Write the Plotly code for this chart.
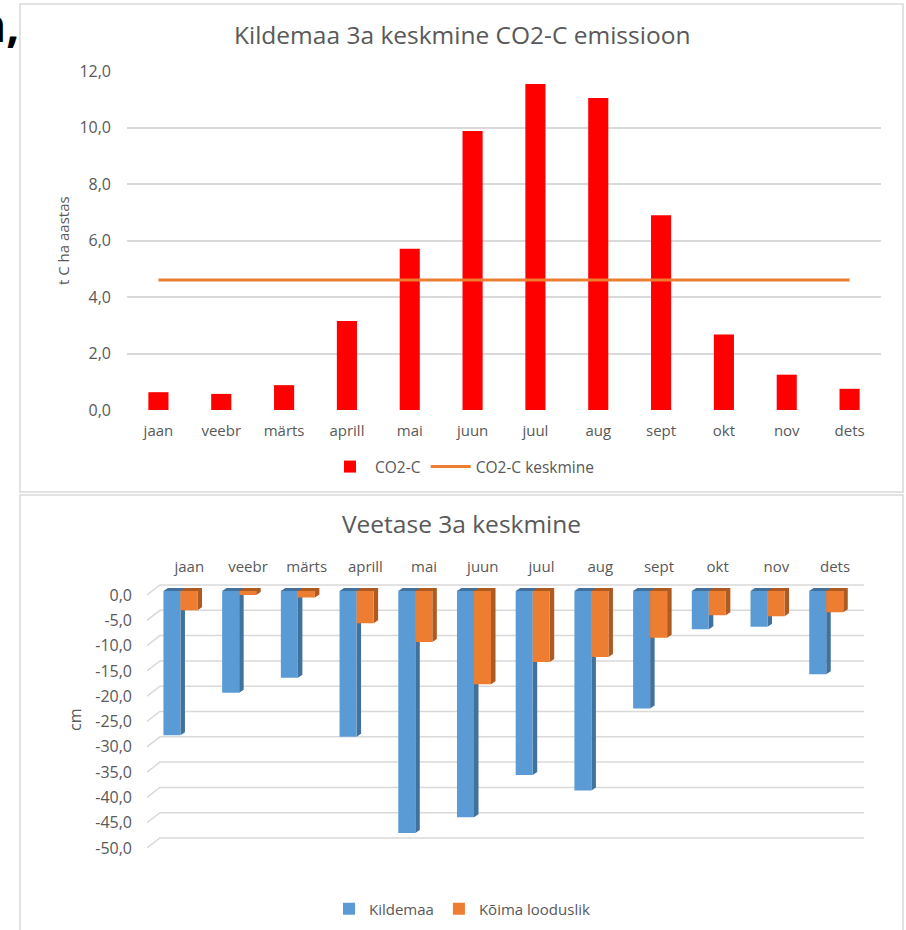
import plotly.graph_objects as go

# ---- data ----
months = ["jaan", "veebr", "märts", "aprill", "mai", "juun",
          "juul", "aug", "sept", "okt", "nov", "dets"]

# monthly CO2-C emission, t C ha aastas
co2_c = [0.63, 0.57, 0.88, 3.15, 5.71, 9.88, 11.54, 11.04, 6.89, 2.67, 1.25, 0.75]
co2_c_keskmine = [4.6, 4.6, 4.6, 4.6, 4.6, 4.6, 4.6, 4.6, 4.6, 4.6, 4.6, 4.6]

# mean water level, cm
kildemaa = [-28.6, -20.2, -17.2, -28.9, -48.0, -44.9, -36.5, -39.6, -23.3, -7.6, -7.1, -16.5]
koima_looduslik = [-3.8, -0.8, -1.3, -6.4, -10.1, -18.5, -14.1, -13.1, -9.3, -4.8, -5.0, -4.2]

co2_tickvals = [0, 2, 4, 6, 8, 10, 12]
co2_ticktext = ["0,0", "2,0", "4,0", "6,0", "8,0", "10,0", "12,0"]
level_tickvals = [0, -5, -10, -15, -20, -25, -30, -35, -40, -45, -50]
level_ticktext = ["0,0", "-5,0", "-10,0", "-15,0", "-20,0", "-25,0",
                  "-30,0", "-35,0", "-40,0", "-45,0", "-50,0"]

# ---- page geometry ----
W, H = 906, 930
FONT = "Open Sans"
GREY = "#595959"
GRID = "#D9D9D9"


def fx(p):
    return p / W


def fy(p):
    return 1 - p / H


fig = go.Figure()

# ---------- upper chart: CO2-C emission ----------
fig.add_trace(go.Bar(
    x=months, y=co2_c, width=0.32, name="CO2-C",
    marker=dict(color="#FF0000", line=dict(width=0)),
    xaxis="x", yaxis="y", legend="legend"))
fig.add_trace(go.Scatter(
    x=months, y=co2_c_keskmine, mode="lines", name="CO2-C keskmine",
    line=dict(color="#ED7D31", width=3),
    xaxis="x", yaxis="y", legend="legend"))

# ---------- lower chart: water level, drawn with a 3-D look ----------
n = len(months)
cat_px = 58.7            # pixels per category on the lower chart
depth_dx = 4.5 / cat_px  # side-face depth in x units
px_per_cm = 5.04
depth_dy = 3 / px_per_cm
bar_w = 0.29
series = [
    (kildemaa, -0.44, "#5B9BD5", "#41719C", "Kildemaa"),
    (koima_looduslik, -0.15, "#ED7D31", "#AE5A21", "Kõima looduslik"),
]

# back-wall gridlines with the short receding segment on the left
gx, gy = [], []
front_drop = 10 / 5.06
for v in level_tickvals:
    gx += [-0.72, -0.5, 11.5, None]
    gy += [v - front_drop, v, v, None]
fig.add_trace(go.Scatter(
    x=gx, y=gy, mode="lines", line=dict(color=GRID, width=1.5),
    hoverinfo="skip", showlegend=False, xaxis="x2", yaxis="y2"))

# top and side faces of every bar
for vals, off, front, side, name in series:
    sx, sy = [], []
    for i, v in enumerate(vals):
        xl = i + off
        xr = xl + bar_w
        sx += [xl, xl + depth_dx, xr + depth_dx, xr + depth_dx, xr, xr, xl, None]
        sy += [0, depth_dy, depth_dy, v + depth_dy, v, 0, 0, None]
    fig.add_trace(go.Scatter(
        x=sx, y=sy, mode="lines", fill="toself", fillcolor=side,
        line=dict(width=0, color=side), hoverinfo="skip", showlegend=False,
        xaxis="x2", yaxis="y3"))

# front faces
for vals, off, front, side, name in series:
    fig.add_trace(go.Bar(
        x=list(range(n)), y=vals, offset=off, width=bar_w, name=name,
        marker=dict(color=front, line=dict(width=0)),
        xaxis="x2", yaxis="y4", legend="legend2"))

tick_font = dict(family=FONT, size=15, color=GREY)
ytick_font = dict(family=FONT, size=16, color=GREY)

# lower chart axis ranges (back wall: 0 at y=585, bars: 0 at y=591)
y2_top, y2_bot = 578, 852
back_range = [-(y2_bot - 585) / 5.06, (585 - y2_top) / 5.06]
bar_range = [-(y2_bot - 591) / px_per_cm, (591 - y2_top) / px_per_cm]

fig.update_layout(
    width=W, height=H,
    margin=dict(l=0, r=0, t=0, b=0, autoexpand=False),
    paper_bgcolor="white", plot_bgcolor="white",
    barmode="overlay",
    font=dict(family=FONT, color=GREY),
    xaxis=dict(domain=[fx(127), fx(881)], anchor="y", type="category",
               range=[-0.5, 11.5], showgrid=False, zeroline=False, showline=False,
               ticks="", tickfont=tick_font, ticklabelstandoff=10, automargin=False),
    yaxis=dict(domain=[fy(410), fy(71)], anchor="x", range=[0, 12],
               tickvals=co2_tickvals, ticktext=co2_ticktext,
               showgrid=True, gridcolor=GRID, gridwidth=1.5,
               zeroline=False, showline=False, ticks="",
               tickfont=ytick_font, ticklabelstandoff=15, automargin=False),
    xaxis2=dict(domain=[fx(147), fx(864.4)], anchor="y2", range=[-0.72, 11.5],
                tickvals=list(range(n)), ticktext=months, side="top",
                showgrid=False, zeroline=False, showline=False, ticks="",
                tickfont=tick_font, ticklabelstandoff=2, automargin=False),
    yaxis2=dict(domain=[fy(y2_bot), fy(y2_top)], anchor="x2", range=back_range,
                tickvals=level_tickvals, ticktext=level_ticktext,
                showgrid=False, zeroline=False, showline=False, ticks="",
                tickfont=ytick_font, ticklabelshift=10, ticklabelstandoff=14,
                automargin=False),
    yaxis3=dict(overlaying="y2", anchor="x2", range=bar_range, visible=False,
                automargin=False),
    yaxis4=dict(overlaying="y2", anchor="x2", range=bar_range, visible=False,
                automargin=False),
    legend=dict(orientation="h", x=fx(462), xanchor="center", y=fy(467), yanchor="middle",
                font=dict(family=FONT, size=15.5, color=GREY), bgcolor="rgba(0,0,0,0)",
                itemwidth=40, tracegroupgap=0),
    legend2=dict(orientation="h", x=fx(462), xanchor="center", y=fy(909), yanchor="middle",
                 font=dict(family=FONT, size=15, color=GREY), bgcolor="rgba(0,0,0,0)",
                 tracegroupgap=0),
    shapes=[
        dict(type="rect", xref="paper", yref="paper",
             x0=fx(20), x1=fx(903), y0=fy(492), y1=fy(4),
             line=dict(color=GRID, width=1.5), layer="below"),
        dict(type="rect", xref="paper", yref="paper",
             x0=fx(20), x1=fx(903), y0=fy(935), y1=fy(495),
             line=dict(color=GRID, width=1.5), layer="below"),
    ],
    annotations=[
        dict(text="Kildemaa 3a keskmine CO2-C emissioon", x=fx(462), y=fy(35),
             xanchor="center", yanchor="middle",
             xref="paper", yref="paper", showarrow=False,
             font=dict(family=FONT, size=24.5, color=GREY)),
        dict(text="Veetase 3a keskmine", x=fx(461), y=fy(523),
             xanchor="center", yanchor="middle",
             xref="paper", yref="paper", showarrow=False,
             font=dict(family=FONT, size=24.5, color=GREY)),
        dict(text="t C ha aastas", x=fx(63), y=fy(240), textangle=-90,
             xanchor="center", yanchor="middle",
             xref="paper", yref="paper", showarrow=False,
             font=dict(family=FONT, size=15, color=GREY)),
        dict(text="cm", x=fx(75), y=fy(720), textangle=-90,
             xanchor="center", yanchor="middle",
             xref="paper", yref="paper", showarrow=False,
             font=dict(family=FONT, size=16, color=GREY)),
        dict(text="<b>n,</b>", x=fx(21), y=fy(24), xanchor="right", yanchor="middle",
             xref="paper", yref="paper", showarrow=False,
             font=dict(family="Open Sans", size=46, color="black")),
    ],
)

fig.write_html("out.html")
